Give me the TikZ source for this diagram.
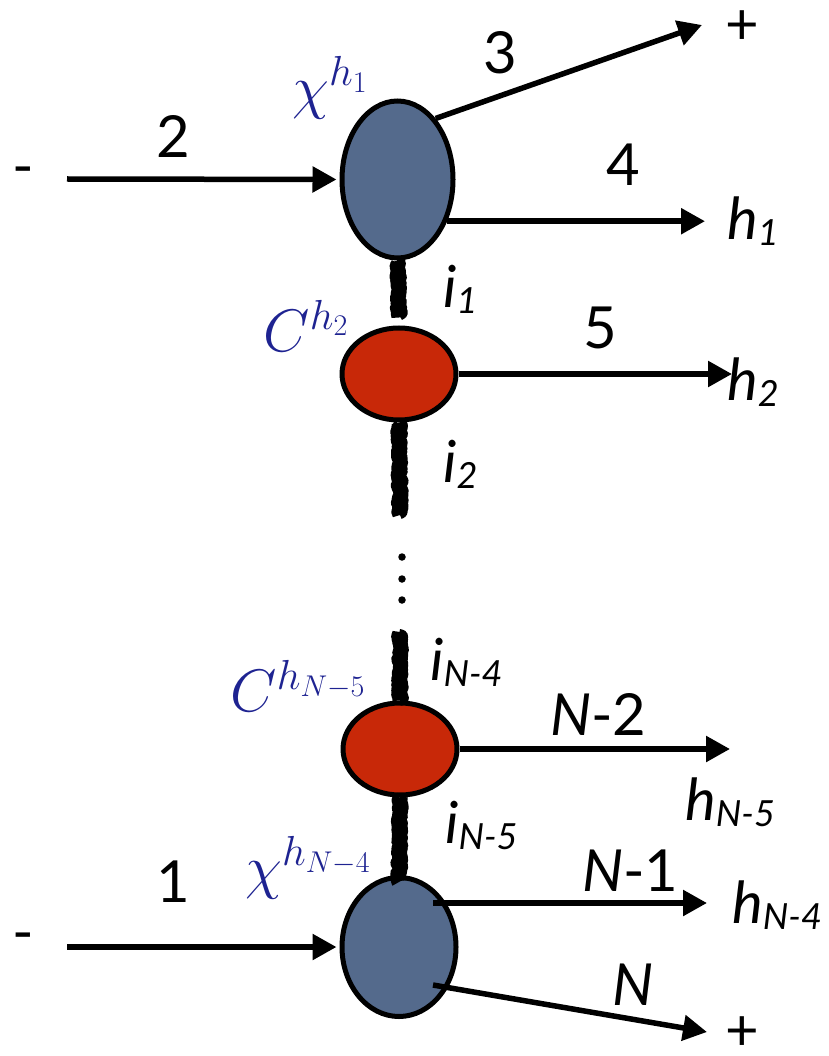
\RequirePackage{fix-cm}
\documentclass[tikz,border=0pt]{standalone}
\usepackage[no-math]{fontspec}
\setmainfont{Lato}
\usetikzlibrary{shapes.geometric,arrows.meta,decorations.pathmorphing,calc}
\definecolor{chiblue}{RGB}{84,106,140}
\definecolor{cred}{RGB}{200,40,8}
\definecolor{labblue}{RGB}{30,35,145}
% lowered, smaller index used in the leg labels
\newcommand\lsub[1]{\raisebox{-6pt}{\fontsize{36}{36}\selectfont\itshape #1}}

\begin{document}
\begin{tikzpicture}[x=1pt,y=-1pt,
  vertex/.style={ellipse,draw=black,line width=5pt,inner sep=0pt},
  blob/.style={vertex,fill=chiblue},
  redblob/.style={vertex,fill=cred},
  leg/.style={line width=5.5pt,-{Triangle[length=24pt,width=25pt]}},
  fuzzy/.style={line width=15pt,line join=round,line cap=butt,decorate,
    decoration={random steps,segment length=1.5pt,amplitude=1.5pt}},
  num/.style={font=\fontsize{58}{60}\selectfont,inner sep=0pt},
  lab/.style={num,anchor=base west},
  mlab/.style={text=labblue,font=\fontsize{60}{60}\selectfont,inner sep=0pt},
  dot/.style={circle,fill=black,inner sep=0pt,minimum size=7.5pt}
]
\useasboundingbox (0,0) rectangle (828,1056);

% vertices of the chain
\node[blob,minimum width=111pt,minimum height=157pt] (chiA) at (397.5,179.5) {};
\node[redblob,minimum width=114pt,minimum height=92pt] (cA) at (399,374) {};
\node[redblob,minimum width=114pt,minimum height=92pt] (cB) at (400,749) {};
\node[blob,minimum width=114pt,minimum height=139pt] (chiB) at (399,947) {};

% bonds between the vertices
\coordinate (gapTop) at (400,515);
\coordinate (gapBot) at (400,632);
\draw[fuzzy] (chiA.south) -- ($(cA.north)+(0,-8)$);
\draw[fuzzy] (cA.south) -- (gapTop);
\draw[fuzzy] (gapBot) -- (cB.north);
\draw[fuzzy] (cB.south) -- ($(chiB.north)+(0,7)$);

% vertical ellipsis
\node[dot] (v1) at (402,557) {};
\node[dot] (v2) at (402,579) {};
\node[dot] (v3) at (402,600) {};

% external legs
\coordinate (inA) at (67,179);
\coordinate (inB) at (67,947);
\coordinate (t3) at (702,25);
\coordinate (t4) at (705,220);
\coordinate (t5) at (732,374);
\coordinate (t6) at (730,749);
\coordinate (s7) at ($(chiB.center)+(34,-44)$);
\coordinate (t7) at (707,903);
\coordinate (s8) at ($(chiB.center)+(34,38)$);
\coordinate (t8) at (707,1032);

\draw[leg,shorten >=3pt] (inA) -- (chiA.west);
\draw[leg] (chiA.58) -- (t3);
\draw[leg] (chiA.-40) -- (chiA.-40 -| t4);
\draw[leg] (cA.east) -- (t5);
\draw[leg] (cB.east) -- (t6);
\draw[leg] (s7) -- (s7 -| t7);
\draw[leg] (s8) -- (t8);
\draw[leg,shorten >=3pt] (inB) -- (chiB.west);

% leg numbers and end labels
\node[num] (minA) at (23,177) {-};
\node[num] (minB) at (23,943) {-};
\node[num] (l2) at (173,136) {2};
\node[num] (l3) at (500,53) {3};
\node[num] (plusA) at (742,28) {+};
\node[num] (l4) at (623,165) {4};
\node[num] (l5) at (600,328) {5};
\node[num] (l1) at (173,882) {1};
\node[num] (plusB) at (742,1034) {+};

\node[lab] (h1) at (727,240) {\itshape h\lsub{1}};
\node[lab] (h2) at (727,400) {\itshape h\lsub{2}};
\node[lab] (hN5) at (685,820) {\itshape h\lsub{N-5}};
\node[lab] (hN4) at (732,923) {\itshape h\lsub{N-4}};
\node[lab] (i1) at (443,307) {\itshape i\lsub{1}};
\node[lab] (i2) at (443,482) {\itshape i\lsub{2}};
\node[lab] (iN4) at (430,680) {\itshape i\lsub{N-4}};
\node[lab] (iN5) at (445,843) {\itshape i\lsub{N-5}};
\node[lab] (lN2) at (550,735) {\textit{N}-2};
\node[lab] (lN1) at (582,891) {\textit{N}-1};
\node[lab] (lN) at (612,1005) {\textit{N}};

% vertex names
\node[mlab] (mchiA) at (330,88) {$\chi^{h_1}$};
\node[mlab] (mcA) at (306,326) {$C^{h_2}$};
\node[mlab] (mcB) at (298,686) {$C^{h_{N-5}}$};
\node[mlab] (mchiB) at (308,868) {$\chi^{h_{N-4}}$};
\end{tikzpicture}
\end{document}
